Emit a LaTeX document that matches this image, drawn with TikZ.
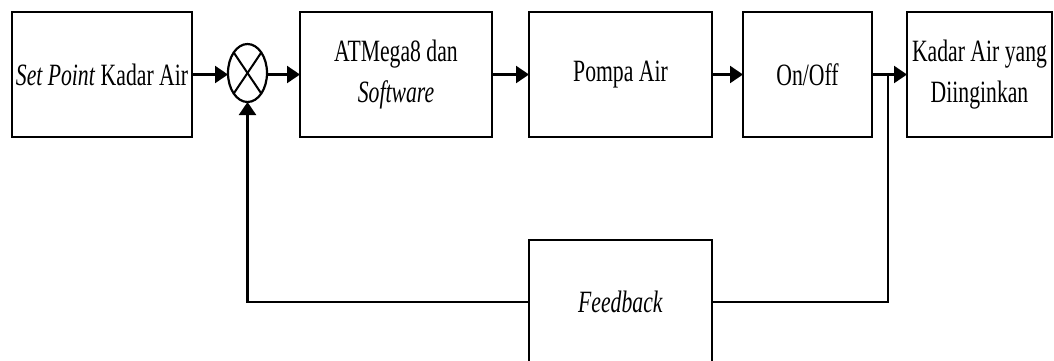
\documentclass[tikz,border=0pt]{standalone}
\usepackage{fontspec}
\setmainfont{Liberation Serif}[FakeStretch=0.70]
\usetikzlibrary{arrows.meta,shapes.geometric}
\begin{document}
\begin{tikzpicture}[x=1pt,y=-1pt,
  blk/.style={draw, line width=2.3pt, inner sep=0pt, outer sep=0pt, align=center,
     font=\fontsize{31}{41}\selectfont},
  conn/.style={line width=2.2pt},
  arr/.style={conn, -{Triangle[length=13pt,width=17pt]}}]
\useasboundingbox (0,0) rectangle (1054,360);
\fill[white] (0,0) rectangle (1054,360);
\node[blk, minimum width=180pt, minimum height=125pt] (b1) at (102,74.5) {\textit{Set Point} Kadar Air};
\node[draw, ellipse, line width=2.2pt, minimum width=39pt, minimum height=58pt, inner sep=0pt, outer sep=0pt] (sum) at (247.5,73) {};
\draw[line width=2pt] (sum.north west) -- (sum.south east);
\draw[line width=2pt] (sum.north east) -- (sum.south west);
\node[blk, minimum width=192pt, minimum height=125pt] (b2) at (396,74.5) {ATMega8 dan\\\textit{Software}};
\node[blk, minimum width=183pt, minimum height=125pt] (b3) at (620.5,74.5) {Pompa Air};
\node[blk, minimum width=129pt, minimum height=125pt] (b4) at (807.5,74.5) {On/Off};
\node[blk, minimum width=145pt, minimum height=125pt] (b5) at (979.5,74.5) {Kadar Air yang\\Diinginkan};
\node[blk, minimum width=183pt, minimum height=124pt] (fb) at (620.5,302) {\textit{Feedback}};
\coordinate (j) at (888,74.5);
\coordinate (fr) at (888,302);
\coordinate (fl) at (247.5,302);
\draw[arr] (b1.east) -- (b1.east -| sum.west);
\draw[arr] (sum.east |- b2.west) -- (b2.west);
\draw[arr] (b2.east) -- (b3.west);
\draw[arr] (b3.east) -- (b4.west);
\draw[arr] (b4.east) -- (b5.west);
\draw[conn] (j) -- (fr) -- (fb.east);
\draw[arr] (fb.west) -- (fl) -- (sum.south);
\end{tikzpicture}
\end{document}
